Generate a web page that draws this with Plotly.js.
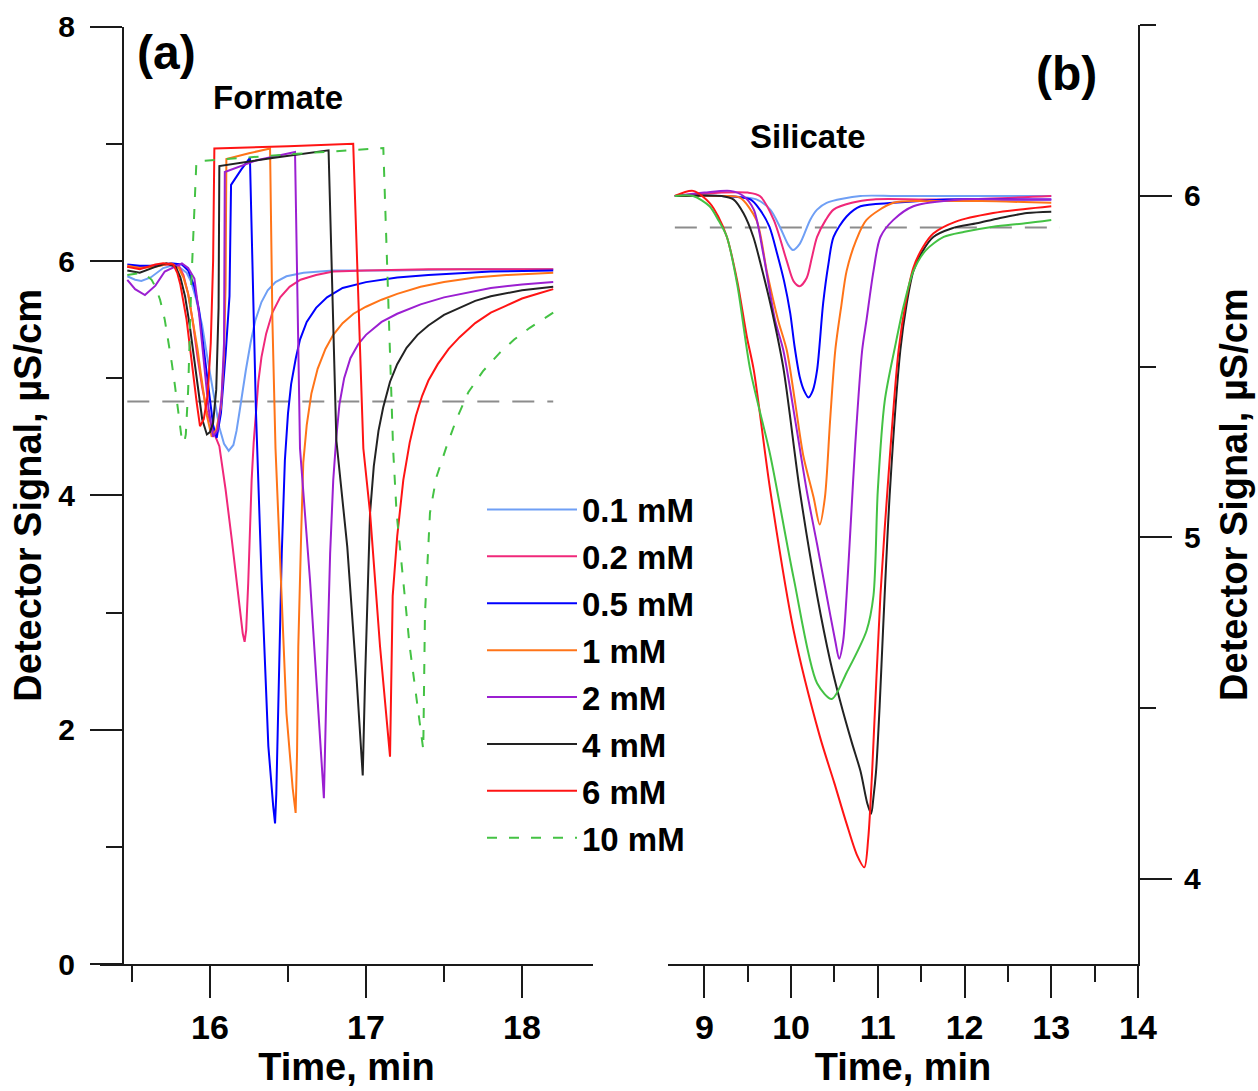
<!DOCTYPE html>
<html>
<head>
<meta charset="utf-8">
<script src="https://cdn.plot.ly/plotly-3.0.1.min.js"></script>
<style>
html,body{margin:0;padding:0;background:#fff;}
#chart{width:1258px;height:1091px;}
</style>
</head>
<body>
<div id="chart"></div>
<script>
// ---------- Series labels & colours ----------
const seriesNames = ["0.1 mM", "0.2 mM", "0.5 mM", "1 mM", "2 mM", "4 mM", "6 mM", "10 mM"];
const seriesColors = ["#6f9ff5", "#f0287a", "#0000ff", "#ff7418", "#9b1fd1", "#222222", "#ff1414", "#44c244"];

// ---------- Panel (a) Formate : time (min) / signal (µS/cm) ----------
const formate_t_01 = [15.47, 15.52, 15.56, 15.62, 15.70, 15.78, 15.85, 15.88, 15.91, 15.95, 15.99, 16.03, 16.06, 16.09, 16.12, 16.15, 16.17, 16.19, 16.21, 16.23, 16.26, 16.29, 16.33, 16.37, 16.42, 16.49, 16.60, 16.79, 17.2, 17.6, 18.0, 18.2];
const formate_s_01 = [5.87, 5.84, 5.83, 5.86, 5.94, 5.97, 5.90, 5.82, 5.68, 5.45, 5.12, 4.80, 4.58, 4.44, 4.38, 4.43, 4.55, 4.72, 4.90, 5.07, 5.30, 5.49, 5.65, 5.75, 5.82, 5.87, 5.90, 5.92, 5.92, 5.93, 5.93, 5.93];

const formate_t_02 = [15.47, 15.55, 15.65, 15.74, 15.80, 15.83, 15.86, 15.89, 15.92, 15.95, 15.98, 16.02, 16.06, 16.10, 16.14, 16.18, 16.21, 16.222, 16.232, 16.245, 16.258, 16.267, 16.28, 16.295, 16.31, 16.33, 16.36, 16.40, 16.45, 16.51, 16.58, 16.68, 16.79, 17.0, 17.4, 17.8, 18.2];
const formate_s_02 = [5.95, 5.95, 5.96, 5.97, 5.96, 5.88, 5.72, 5.48, 5.18, 4.92, 4.72, 4.55, 4.42, 4.05, 3.62, 3.15, 2.82, 2.75, 2.85, 3.25, 3.78, 4.13, 4.45, 4.75, 4.97, 5.18, 5.38, 5.56, 5.69, 5.78, 5.84, 5.88, 5.91, 5.92, 5.93, 5.93, 5.93];

const formate_t_05 = [15.47, 15.55, 15.65, 15.75, 15.82, 15.86, 15.90, 15.93, 15.96, 15.99, 16.02, 16.043, 16.07, 16.10, 16.125, 16.135, 16.20, 16.256, 16.27, 16.285, 16.295, 16.331, 16.374, 16.405, 16.417, 16.425, 16.44, 16.46, 16.48, 16.50, 16.52, 16.55, 16.577, 16.62, 16.68, 16.75, 16.85, 17.0, 17.2, 17.4, 17.8, 18.2];
const formate_s_05 = [5.97, 5.96, 5.96, 5.98, 5.97, 5.92, 5.78, 5.58, 5.25, 4.90, 4.60, 4.49, 4.70, 5.20, 5.70, 6.65, 6.78, 6.88, 6.00, 5.20, 4.70, 3.28, 1.86, 1.35, 1.20, 1.45, 2.30, 3.50, 4.30, 4.70, 4.95, 5.17, 5.33, 5.48, 5.60, 5.69, 5.77, 5.82, 5.86, 5.88, 5.91, 5.92];

const formate_t_1 = [15.47, 15.55, 15.65, 15.75, 15.80, 15.83, 15.86, 15.89, 15.92, 15.94, 15.96, 15.98, 16.011, 16.04, 16.07, 16.09, 16.10, 16.105, 16.25, 16.385, 16.40, 16.42, 16.437, 16.49, 16.53, 16.549, 16.558, 16.566, 16.585, 16.598, 16.62, 16.65, 16.69, 16.74, 16.79, 16.85, 16.92, 17.0, 17.1, 17.2, 17.35, 17.5, 17.7, 17.9, 18.2];
const formate_s_1 = [5.96, 5.94, 5.95, 5.98, 5.94, 5.86, 5.72, 5.50, 5.25, 5.05, 4.85, 4.68, 4.50, 4.56, 4.75, 5.20, 5.80, 6.87, 6.92, 6.96, 5.50, 4.40, 3.85, 2.14, 1.50, 1.29, 1.80, 2.71, 3.70, 4.28, 4.60, 4.87, 5.08, 5.25, 5.37, 5.47, 5.55, 5.61, 5.67, 5.72, 5.78, 5.82, 5.86, 5.88, 5.90];

const formate_t_2 = [15.47, 15.52, 15.583, 15.65, 15.71, 15.82, 15.86, 15.90, 15.93, 15.96, 15.99, 16.02, 16.05, 16.075, 16.09, 16.095, 16.30, 16.545, 16.56, 16.577, 16.641, 16.694, 16.73, 16.748, 16.77, 16.79, 16.81, 16.83, 16.86, 16.90, 16.95, 17.0, 17.1, 17.2, 17.35, 17.5, 17.65, 17.8, 18.0, 18.2];
const formate_s_2 = [5.84, 5.76, 5.71, 5.79, 5.91, 5.98, 5.94, 5.85, 5.55, 5.15, 4.75, 4.50, 4.56, 4.85, 5.30, 6.76, 6.86, 6.93, 5.60, 4.40, 3.28, 2.14, 1.415, 2.43, 3.50, 4.13, 4.50, 4.78, 5.00, 5.17, 5.29, 5.37, 5.48, 5.55, 5.63, 5.69, 5.73, 5.77, 5.80, 5.82];

const formate_t_4 = [15.47, 15.55, 15.65, 15.72, 15.78, 15.81, 15.84, 15.87, 15.90, 15.93, 15.95, 15.98, 16.00, 16.02, 16.04, 16.055, 16.06, 16.40, 16.76, 16.81, 16.88, 16.94, 16.979, 16.994, 17.026, 17.05, 17.08, 17.11, 17.154, 17.20, 17.26, 17.33, 17.4, 17.5, 17.6, 17.7, 17.8, 18.0, 18.2];
const formate_s_4 = [5.92, 5.90, 5.95, 5.98, 5.95, 5.86, 5.70, 5.45, 5.15, 4.85, 4.65, 4.52, 4.54, 4.62, 4.90, 5.60, 6.81, 6.88, 6.945, 4.47, 3.56, 2.43, 1.61, 2.43, 3.85, 4.25, 4.55, 4.75, 4.97, 5.12, 5.26, 5.37, 5.45, 5.54, 5.60, 5.66, 5.70, 5.75, 5.78];

const formate_t_6 = [15.47, 15.55, 15.65, 15.70, 15.765, 15.79, 15.81, 15.83, 15.85, 15.87, 15.89, 15.915, 15.936, 15.96, 15.985, 16.005, 16.02, 16.028, 16.50, 16.918, 16.983, 17.026, 17.09, 17.154, 17.171, 17.20, 17.239, 17.28, 17.32, 17.36, 17.40, 17.46, 17.53, 17.6, 17.7, 17.8, 17.9, 18.0, 18.1, 18.2];
const formate_s_6 = [5.95, 5.93, 5.97, 5.98, 5.97, 5.90, 5.80, 5.66, 5.50, 5.28, 5.05, 4.79, 4.59, 4.65, 4.85, 5.30, 6.00, 6.96, 6.98, 7.00, 4.40, 3.85, 2.71, 1.77, 3.14, 3.65, 4.13, 4.45, 4.68, 4.85, 4.98, 5.12, 5.25, 5.35, 5.47, 5.56, 5.62, 5.68, 5.72, 5.76];

const formate_t_10 = [15.47, 15.52, 15.56, 15.60, 15.626, 15.65, 15.68, 15.71, 15.73, 15.755, 15.776, 15.80, 15.82, 15.835, 15.845, 15.86, 15.88, 15.905, 15.913, 16.5, 17.09, 17.111, 17.174, 17.196, 17.28, 17.367, 17.378, 17.41, 17.45, 17.517, 17.58, 17.656, 17.75, 17.86, 17.95, 18.05, 18.2];
const formate_s_10 = [5.88, 5.89, 5.90, 5.87, 5.84, 5.78, 5.67, 5.50, 5.35, 5.13, 4.93, 4.65, 4.47, 4.45, 4.52, 4.90, 5.80, 6.60, 6.85, 6.91, 6.965, 6.965, 4.39, 3.85, 2.71, 1.83, 2.99, 3.85, 4.15, 4.42, 4.65, 4.88, 5.06, 5.22, 5.33, 5.43, 5.56];

const formate_ref_t = [15.47, 18.2];
const formate_ref_s = [4.80, 4.80];

// ---------- Panel (b) Silicate ----------
const silicate_t_01 = [8.66, 9.2, 9.6, 9.76, 9.87, 9.97, 10.02, 10.10, 10.22, 10.3, 10.41, 10.8, 11.2, 12.0, 13.0];
const silicate_s_01 = [6.00, 6.00, 5.99, 5.96, 5.91, 5.856, 5.842, 5.86, 5.93, 5.96, 5.98, 6.00, 6.00, 6.00, 6.00];

const silicate_t_02 = [8.66, 9.2, 9.5, 9.64, 9.80, 9.95, 10.03, 10.10, 10.18, 10.24, 10.30, 10.40, 10.49, 10.7, 10.95, 11.5, 12.0, 13.0];
const silicate_s_02 = [6.00, 6.01, 6.01, 6.00, 5.93, 5.81, 5.75, 5.736, 5.76, 5.82, 5.88, 5.93, 5.96, 5.98, 5.99, 5.99, 5.99, 6.00];

const silicate_t_05 = [8.66, 9.2, 9.53, 9.64, 9.75, 9.84, 9.92, 9.99, 10.04, 10.10, 10.15, 10.20, 10.25, 10.30, 10.37, 10.43, 10.49, 10.64, 10.80, 11.18, 11.8, 12.5, 13.0];
const silicate_s_05 = [6.00, 6.00, 5.99, 5.96, 5.91, 5.83, 5.75, 5.657, 5.56, 5.47, 5.43, 5.410, 5.43, 5.49, 5.686, 5.80, 5.88, 5.94, 5.97, 5.98, 5.99, 5.99, 5.99];

const silicate_t_1 = [8.66, 9.2, 9.41, 9.60, 9.72, 9.85, 9.95, 10.05, 10.14, 10.26, 10.33, 10.39, 10.45, 10.51, 10.58, 10.64, 10.75, 10.87, 11.18, 11.6, 12.2, 13.0];
const silicate_s_1 = [6.00, 6.00, 5.995, 5.93, 5.78, 5.637, 5.549, 5.39, 5.241, 5.117, 5.038, 5.117, 5.343, 5.549, 5.68, 5.78, 5.87, 5.93, 5.98, 5.985, 5.985, 5.98];

const silicate_t_2 = [8.66, 9.0, 9.3, 9.45, 9.57, 9.68, 9.815, 9.91, 10.05, 10.18, 10.30, 10.41, 10.51, 10.554, 10.60, 10.64, 10.69, 10.74, 10.82, 10.87, 10.95, 11.03, 11.18, 11.41, 11.95, 12.5, 13.0];
const silicate_s_2 = [6.00, 6.01, 6.015, 6.00, 5.96, 5.83, 5.637, 5.549, 5.34, 5.138, 4.98, 4.830, 4.696, 4.645, 4.696, 4.830, 5.05, 5.272, 5.549, 5.637, 5.78, 5.88, 5.93, 5.97, 5.99, 5.99, 5.99];

const silicate_t_4 = [8.66, 9.2, 9.335, 9.45, 9.565, 9.66, 9.76, 9.91, 10.10, 10.30, 10.45, 10.565, 10.70, 10.80, 10.88, 10.923, 10.95, 10.98, 11.02, 11.06, 11.14, 11.26, 11.33, 11.41, 11.52, 11.64, 11.85, 12.14, 12.4, 12.72, 13.0];
const silicate_s_4 = [6.00, 6.00, 5.99, 5.95, 5.88, 5.79, 5.686, 5.498, 5.138, 4.830, 4.64, 4.522, 4.40, 4.316, 4.22, 4.191, 4.24, 4.316, 4.50, 4.727, 5.138, 5.549, 5.68, 5.78, 5.84, 5.88, 5.905, 5.92, 5.935, 5.95, 5.954];

const silicate_t_6 = [8.66, 8.87, 9.06, 9.16, 9.26, 9.38, 9.49, 9.57, 9.76, 10.03, 10.33, 10.50, 10.64, 10.76, 10.845, 10.89, 10.935, 11.03, 11.14, 11.24, 11.33, 11.41, 11.52, 11.64, 11.9, 12.33, 12.7, 13.0];
const silicate_s_6 = [6.00, 6.015, 5.98, 5.94, 5.88, 5.75, 5.588, 5.49, 5.138, 4.727, 4.419, 4.28, 4.162, 4.07, 4.034, 4.12, 4.316, 4.830, 5.241, 5.549, 5.70, 5.79, 5.85, 5.89, 5.925, 5.95, 5.962, 5.97];

const silicate_t_10 = [8.66, 8.87, 9.06, 9.16, 9.26, 9.38, 9.53, 9.76, 10.03, 10.30, 10.47, 10.64, 10.87, 10.95, 11.0, 11.08, 11.2, 11.3, 11.41, 11.55, 11.76, 12.0, 12.33, 12.7, 13.0];
const silicate_s_10 = [6.00, 6.00, 5.97, 5.93, 5.88, 5.74, 5.49, 5.241, 4.881, 4.573, 4.527, 4.604, 4.727, 4.830, 5.138, 5.40, 5.56, 5.68, 5.78, 5.84, 5.88, 5.895, 5.91, 5.92, 5.93];

const silicate_ref_t = [8.66, 13.1];
const silicate_ref_s = [5.908, 5.908];

// ---------- Build traces ----------
const formateT = [formate_t_01, formate_t_02, formate_t_05, formate_t_1, formate_t_2, formate_t_4, formate_t_6, formate_t_10];
const formateS = [formate_s_01, formate_s_02, formate_s_05, formate_s_1, formate_s_2, formate_s_4, formate_s_6, formate_s_10];
const silicateT = [silicate_t_01, silicate_t_02, silicate_t_05, silicate_t_1, silicate_t_2, silicate_t_4, silicate_t_6, silicate_t_10];
const silicateS = [silicate_s_01, silicate_s_02, silicate_s_05, silicate_s_1, silicate_s_2, silicate_s_4, silicate_s_6, silicate_s_10];

const traces = [];
traces.push({x: formate_ref_t, y: formate_ref_s, xaxis: 'x', yaxis: 'y', mode: 'lines',
  line: {color: '#8c8c8c', width: 2, dash: '22px,13px'}, showlegend: false, hoverinfo: 'skip'});
traces.push({x: silicate_ref_t, y: silicate_ref_s, xaxis: 'x2', yaxis: 'y2', mode: 'lines',
  line: {color: '#8c8c8c', width: 2, dash: '22px,13px'}, showlegend: false, hoverinfo: 'skip'});

// silicate (right) panel – all solid
for (let i = 0; i < seriesNames.length; i++) {
  traces.push({x: silicateT[i], y: silicateS[i], xaxis: 'x2', yaxis: 'y2', mode: 'lines',
    name: seriesNames[i], showlegend: false,
    line: {color: seriesColors[i], width: 2, shape: 'spline', smoothing: 0.8}});
}
// formate (left) panel – drives the legend
for (let i = 0; i < seriesNames.length; i++) {
  traces.push({x: formateT[i], y: formateS[i], xaxis: 'x', yaxis: 'y', mode: 'lines',
    name: seriesNames[i], legendgroup: 'g' + i,
    line: {color: seriesColors[i], width: 2, dash: i === 7 ? '10px,12px' : 'solid'}});
}

const W = 1258, H = 1091;
const px = v => v / W;
const py = v => 1 - v / H;
const FONT = 'Liberation Sans, Arial, Helvetica, sans-serif';
const axisCommon = {
  showgrid: false, zeroline: false, showline: true, linecolor: '#1a1a1a', linewidth: 2,
  ticks: 'outside', ticklen: 32, tickwidth: 2, tickcolor: '#1a1a1a',
  tickfont: {family: FONT, size: 30, color: '#000', weight: 'bold'},
};

const layout = {
  width: W, height: H,
  margin: {l: 0, r: 0, t: 0, b: 0},
  paper_bgcolor: '#fff', plot_bgcolor: 'rgba(0,0,0,0)',
  font: {family: FONT, color: '#000'},
  showlegend: true,
  legend: {
    x: px(482), y: py(481.5), xanchor: 'left', yanchor: 'top',
    bgcolor: 'rgba(0,0,0,0)', borderwidth: 0,
    font: {family: FONT, size: 33, color: '#000', weight: 'bold'},
    itemwidth: 90, traceorder: 'grouped', tracegroupgap: 1,
  },
  xaxis: Object.assign({}, axisCommon, {
    domain: [px(100), px(593)], range: [15.295, 18.455], anchor: 'y',
    dtick: 1, tick0: 0,
    minor: {dtick: 0.5, tick0: 0, ticklen: 16, tickwidth: 2, tickcolor: '#1a1a1a', ticks: 'outside'},
    tickfont: {family: FONT, size: 34, color: '#000', weight: 'bold'},
    title: {text: 'Time, min', font: {family: FONT, size: 38, color: '#000', weight: 'bold'}, standoff: 9},
  }),
  yaxis: Object.assign({}, axisCommon, {
    domain: [1 - 964 / H, 1 - 26.7 / H], range: [0, 8], anchor: 'free', position: px(123),
    dtick: 2, tick0: 0, ticklabelstandoff: 9,
    minor: {dtick: 1, tick0: 0, ticklen: 16, tickwidth: 2, tickcolor: '#1a1a1a', ticks: 'outside'},
    title: {text: 'Detector Signal, µS/cm', font: {family: FONT, size: 38, color: '#000', weight: 'bold'}, standoff: 4},
  }),
  xaxis2: Object.assign({}, axisCommon, {
    domain: [px(668), px(1138)], range: [8.581, 14.0], anchor: 'y2',
    dtick: 1, tick0: 0,
    minor: {dtick: 0.5, tick0: 0, ticklen: 16, tickwidth: 2, tickcolor: '#1a1a1a', ticks: 'outside'},
    tickfont: {family: FONT, size: 34, color: '#000', weight: 'bold'},
    title: {text: 'Time, min', font: {family: FONT, size: 38, color: '#000', weight: 'bold'}, standoff: 9},
  }),
  yaxis2: Object.assign({}, axisCommon, {
    domain: [1 - 964 / H, 1 - 25.25 / H], range: [3.751, 6.5], anchor: 'x2', side: 'right',
    dtick: 1, tick0: 0, ticklabelstandoff: 6,
    minor: {dtick: 0.5, tick0: 0, ticklen: 16, tickwidth: 2, tickcolor: '#1a1a1a', ticks: 'outside'},
    title: {text: 'Detector Signal, µS/cm', font: {family: FONT, size: 38, color: '#000', weight: 'bold'}, standoff: 20},
  }),
  annotations: [
    {text: '(a)', xref: 'paper', yref: 'paper', x: px(166), y: py(52), xanchor: 'center', yanchor: 'middle',
     showarrow: false, font: {family: FONT, size: 48, color: '#000', weight: 'bold'}},
    {text: 'Formate', xref: 'paper', yref: 'paper', x: px(278), y: py(98), xanchor: 'center', yanchor: 'middle',
     showarrow: false, font: {family: FONT, size: 33, color: '#000', weight: 'bold'}},
    {text: '(b)', xref: 'paper', yref: 'paper', x: px(1066), y: py(74), xanchor: 'center', yanchor: 'middle',
     showarrow: false, font: {family: FONT, size: 48, color: '#000', weight: 'bold'}},
    {text: 'Silicate', xref: 'paper', yref: 'paper', x: px(808), y: py(136), xanchor: 'center', yanchor: 'middle',
     showarrow: false, font: {family: FONT, size: 33, color: '#000', weight: 'bold'}},
  ],
};

Plotly.newPlot('chart', traces, layout, {displayModeBar: false, staticPlot: true});
</script>
</body>
</html>
